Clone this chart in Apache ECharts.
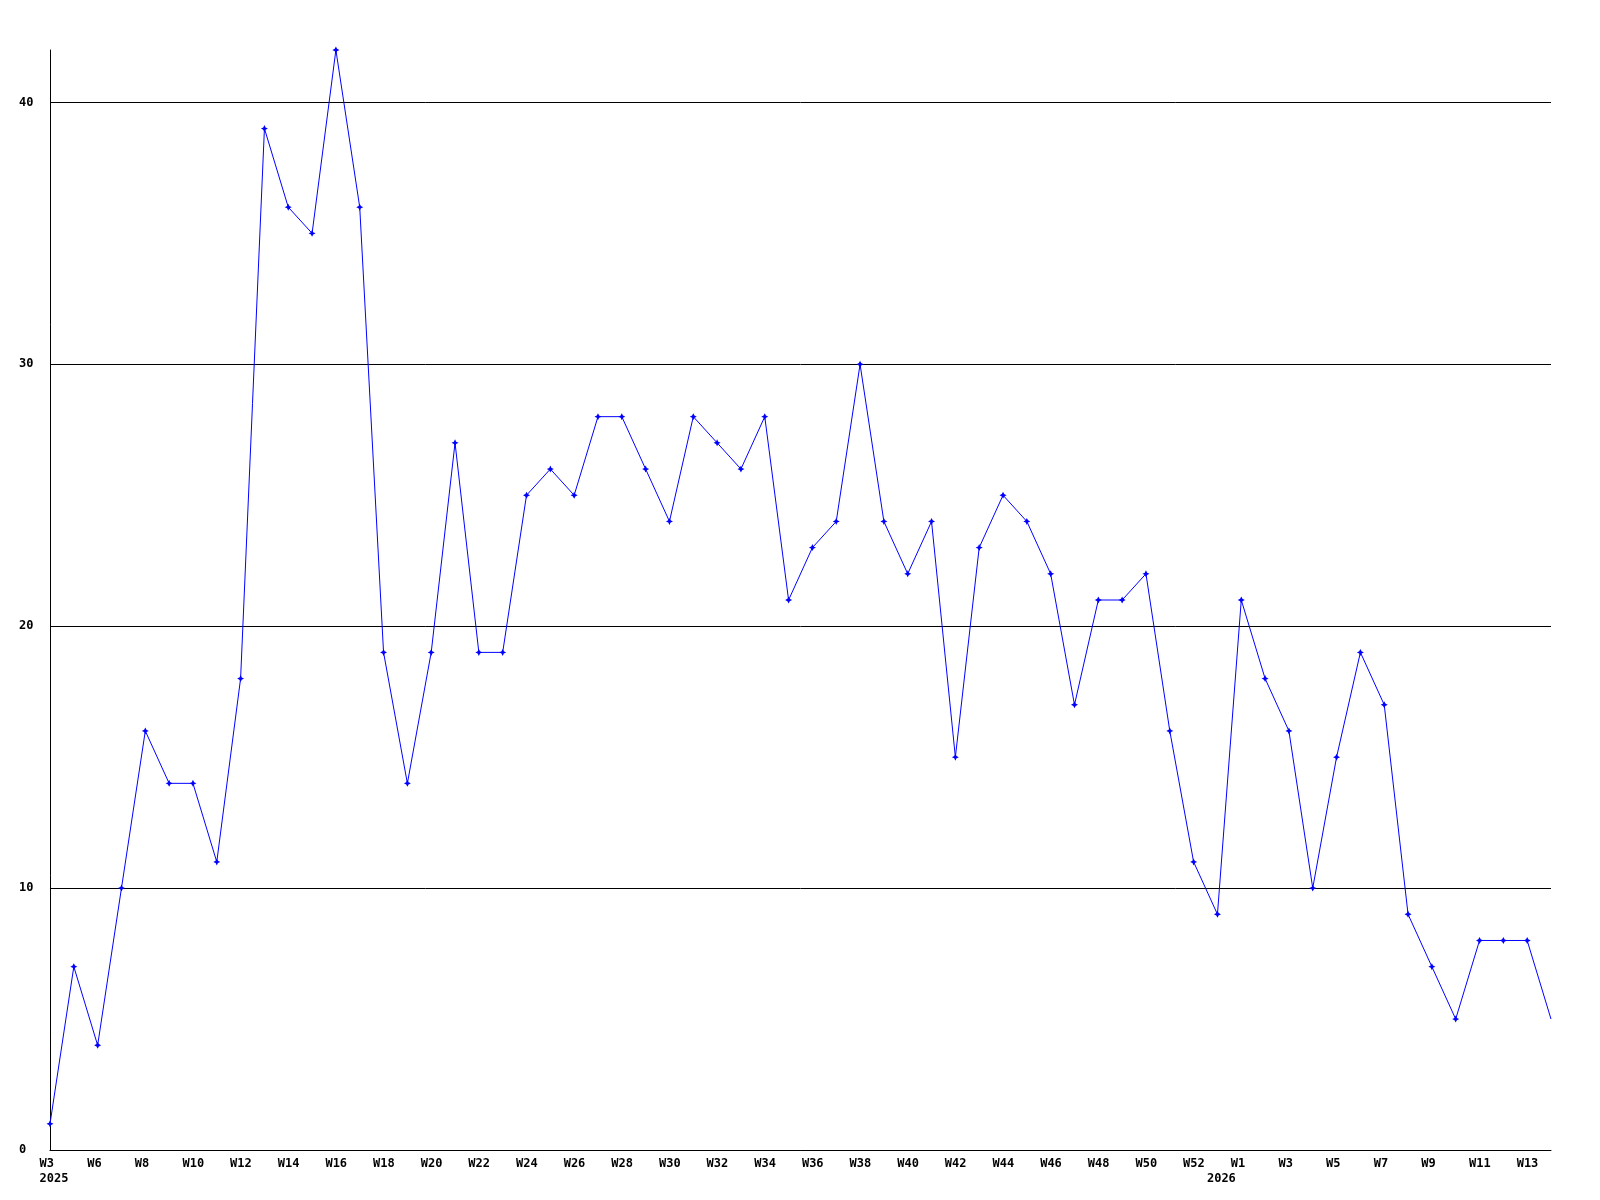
<!DOCTYPE html>
<html>
<head>
<meta charset="utf-8">
<script src="https://cdn.jsdelivr.net/npm/echarts@6/dist/echarts.min.js"></script>
<style>
  html, body { margin: 0; padding: 0; background: #fff; }
  #main { width: 1600px; height: 1200px; }
</style>
</head>
<body>
<div id="main"></div>
<script>
  // weekly counts, first point = W3 2025
  const weeks = [
    'W3', 'W5', 'W6', 'W7', 'W8', 'W9', 'W10', 'W11', 'W12', 'W13',
    'W14', 'W15', 'W16', 'W17', 'W18', 'W19', 'W20', 'W21', 'W22', 'W23',
    'W24', 'W25', 'W26', 'W27', 'W28', 'W29', 'W30', 'W31', 'W32', 'W33',
    'W34', 'W35', 'W36', 'W37', 'W38', 'W39', 'W40', 'W41', 'W42', 'W43',
    'W44', 'W45', 'W46', 'W47', 'W48', 'W49', 'W50', 'W51', 'W52', 'W53',
    'W1', 'W2', 'W3', 'W4', 'W5', 'W6', 'W7', 'W8', 'W9', 'W10',
    'W11', 'W12', 'W13', 'W14'
  ];
  const counts = [
    1, 7, 4, 10, 16, 14, 14, 11, 18, 39,
    36, 35, 42, 36, 19, 14, 19, 27, 19, 19,
    25, 26, 25, 28, 28, 26, 24, 28, 27, 26,
    28, 21, 23, 24, 30, 24, 22, 24, 15, 23,
    25, 24, 22, 17, 21, 21, 22, 16, 11, 9,
    21, 18, 16, 10, 15, 19, 17, 9, 7, 5,
    8, 8, 8, 5
  ];
  // year captions under the week labels
  const yearIndex = [0, 49];
  const yearText = ['2025', '2026'];

  const labelFont = {
    fontFamily: 'DejaVu Sans Mono',
    fontWeight: 'bold',
    fontSize: 12,
    color: '#000'
  };

  const myChart = echarts.init(document.getElementById('main'), null, { renderer: 'canvas' });

  myChart.setOption({
    backgroundColor: '#fff',
    animation: false,
    grid: { left: 50, right: 49, top: 50, bottom: 50, containLabel: false },
    xAxis: [
      {
        type: 'category',
        data: weeks,
        boundaryGap: false,
        axisLine: { show: true, lineStyle: { color: '#000', width: 1 } },
        axisTick: { show: false },
        splitLine: { show: false },
        axisLabel: Object.assign({}, labelFont, {
          interval: 1,
          margin: 8,
          align: 'center',
          formatter: (v) => '{w|' + v + '}',
          rich: { w: Object.assign({}, labelFont, { width: 21, align: 'left' }) }
        })
      },
      {
        type: 'category',
        data: weeks,
        boundaryGap: false,
        position: 'bottom',
        offset: 15,
        axisLine: { show: false },
        axisTick: { show: false },
        splitLine: { show: false },
        axisLabel: Object.assign({}, labelFont, {
          interval: (idx) => yearIndex.indexOf(idx) >= 0,
          margin: 8,
          align: 'center',
          formatter: (v, idx) => {
            const k = yearIndex.indexOf(idx);
            return k >= 0 ? '{w|' + yearText[k] + '}' : '';
          },
          rich: { w: Object.assign({}, labelFont, { width: 21, align: 'left' }) }
        })
      }
    ],
    yAxis: {
      type: 'value',
      min: 0,
      max: 42,
      interval: 10,
      axisLine: { show: true, lineStyle: { color: '#000', width: 1 } },
      axisTick: { show: false },
      splitLine: { show: true, showMaxLine: false, lineStyle: { color: '#000', width: 1 } },
      axisLabel: Object.assign({}, labelFont, {
        align: 'left',
        margin: 31,
        showMaxLabel: false
      })
    },
    series: [
      {
        type: 'line',
        xAxisIndex: 0,
        data: counts.map((v, i) => i === counts.length - 1 ? { value: v, symbol: 'none' } : v),
        symbol: 'path://M3,0L4,2L6,3L4,4L3,6L2,4L0,3L2,2Z',
        symbolSize: 7,
        showSymbol: true,
        showAllSymbol: true,
        itemStyle: { color: '#0000ff' },
        lineStyle: { color: '#0000ff', width: 1 },
        emphasis: { disabled: true }
      }
    ]
  });

  window.addEventListener('resize', () => {
    myChart.resize();
  });
</script>
</body>
</html>
